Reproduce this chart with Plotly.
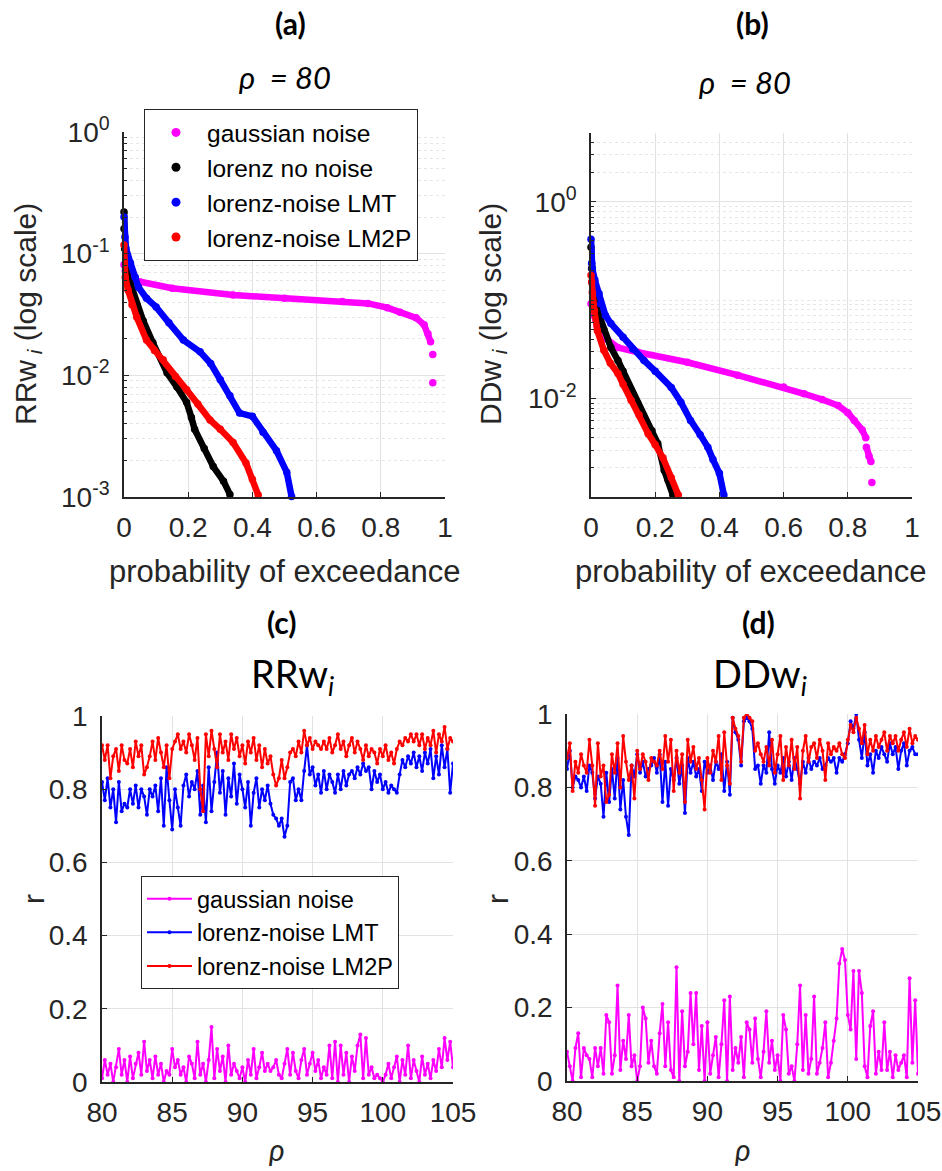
import plotly.graph_objects as go

W, H = 942, 1171

# ---------------- DATA ----------------
# Panel (a): probability of exceedance vs RRw_i (rho = 80)
a_gauss_p = [0.0, 0.004, 0.01, 0.02, 0.05, 0.15, 0.34, 0.50, 0.68, 0.76, 0.82, 0.86, 0.91, 0.935, 0.947, 0.955, None, 0.962, None, 0.962]
a_gauss_v = [0.081, 0.072, 0.065, 0.061, 0.0586, 0.052, 0.0457, 0.043, 0.0405, 0.039, 0.036, 0.033, 0.0297, 0.026, 0.022, 0.0189, None, 0.0148, None, 0.0087]
a_black_p = [0.0, 0.0, 0.002, 0.005, 0.01, 0.019, 0.04, 0.06, 0.09, 0.134, 0.165, 0.195, 0.21, 0.22, 0.25, 0.278, 0.31, 0.33]
a_black_v = [0.22, 0.16, 0.11, 0.085, 0.068, 0.057, 0.038, 0.028, 0.0185, 0.0105, 0.0080, 0.0060, 0.0045, 0.0036, 0.0025, 0.00178, 0.00135, 0.00105]
a_lmt_p = [0.0, 0.003, 0.006, 0.02, 0.035, 0.045, 0.07, 0.10, 0.14, 0.185, 0.237, 0.27, 0.30, 0.33, 0.36, 0.40, 0.433, 0.475, 0.507, 0.522]
a_lmt_v = [0.20, 0.137, 0.111, 0.084, 0.064, 0.053, 0.043, 0.0365, 0.027, 0.0195, 0.0156, 0.0125, 0.0092, 0.0068, 0.0049, 0.0046, 0.0034, 0.0024, 0.0016, 0.00101]
a_lm2p_p = [0.0, 0.004, 0.013, 0.025, 0.04, 0.07, 0.095, 0.122, 0.16, 0.195, 0.23, 0.268, 0.30, 0.34, 0.38, 0.40, 0.418]
a_lm2p_v = [0.118, 0.064, 0.050, 0.038, 0.030, 0.0195, 0.016, 0.0134, 0.0098, 0.0076, 0.0058, 0.0043, 0.0036, 0.0028, 0.0019, 0.0014, 0.00104]

# Panel (b): probability of exceedance vs DDw_i (rho = 80)
b_gauss_p = [0.0, 0.01, 0.02, 0.05, 0.084, 0.146, 0.30, 0.457, 0.60, 0.664, 0.72, 0.77, 0.80, 0.82, 0.845, 0.856, None, 0.858, 0.866, 0.872, None, 0.875]
b_gauss_v = [0.092, 0.07, 0.053, 0.04, 0.033, 0.0296, 0.0234, 0.0173, 0.0131, 0.0112, 0.0098, 0.0085, 0.0072, 0.0060, 0.0048, 0.0040, None, 0.0032, 0.0026, 0.0023, None, 0.0014]
b_black_p = [0.0, 0.002, 0.004, 0.01, 0.02, 0.04, 0.062, 0.084, 0.10, 0.125, 0.145, 0.165, 0.19, 0.208, 0.228, 0.24, 0.255]
b_black_v = [0.345, 0.21, 0.148, 0.10, 0.079, 0.05, 0.033, 0.0244, 0.019, 0.0121, 0.009, 0.0064, 0.0047, 0.0035, 0.00187, 0.0015, 0.00105]
b_lmt_p = [0.0, 0.002, 0.004, 0.012, 0.025, 0.03, 0.045, 0.062, 0.10, 0.13, 0.165, 0.20, 0.25, 0.28, 0.31, 0.34, 0.364, 0.38, 0.40, 0.414]
b_lmt_v = [0.417, 0.237, 0.21, 0.16, 0.117, 0.092, 0.07, 0.058, 0.042, 0.032, 0.0244, 0.019, 0.013, 0.0092, 0.0060, 0.0043, 0.0032, 0.0024, 0.00174, 0.00105]
b_lm2p_p = [0.0, 0.002, 0.004, 0.006, 0.01, 0.02, 0.04, 0.06, 0.084, 0.10, 0.125, 0.15, 0.178, 0.20, 0.224, 0.25, 0.272]
b_lm2p_v = [0.179, 0.153, 0.12, 0.092, 0.079, 0.049, 0.031, 0.023, 0.018, 0.014, 0.0096, 0.0068, 0.0044, 0.0034, 0.0025, 0.00157, 0.00105]

# Panels (c), (d): correlation r vs rho
rho = [round(80 + 0.2 * i, 1) for i in range(126)]

c_gauss = [0.01, 0.06, 0.02, 0.05, 0.00, 0.04, 0.09, 0.02, 0.06, 0.00,
           0.07, 0.01, 0.05, 0.08, 0.02, 0.11, 0.03, 0.06, 0.01, 0.07,
           0.02, 0.05, 0.00, 0.03, 0.02, 0.09, 0.04, 0.06, 0.02, 0.04,
           0.00, 0.07, 0.05, 0.01, 0.11, 0.02, 0.05, 0.00, 0.06, 0.15,
           0.01, 0.09, 0.03, 0.07, 0.00, 0.10, 0.02, 0.05, 0.03, 0.01,
           0.04, 0.00, 0.06, 0.02, 0.09, 0.01, 0.04, 0.08, 0.03, 0.05,
           0.03, 0.04, 0.06, 0.02, 0.01, 0.05, 0.09, 0.02, 0.08, 0.03,
           0.01, 0.06, 0.09, 0.02, 0.05, 0.08, 0.03, 0.06, 0.01, 0.04,
           0.02, 0.10, 0.01, 0.11, 0.00, 0.10, 0.02, 0.08, 0.00, 0.07,
           0.03, 0.10, 0.13, 0.01, 0.12, 0.02, 0.04, 0.01, 0.02, 0.01,
           0.00, 0.02, 0.05, 0.01, 0.04, 0.07, 0.00, 0.06, 0.02, 0.10,
           0.01, 0.06, 0.03, 0.00, 0.07, 0.02, 0.05, 0.01, 0.06, 0.03,
           0.09, 0.04, 0.12, 0.06, 0.11, 0.04]
c_lmt = [0.82, 0.77, 0.83, 0.75, 0.80, 0.71, 0.82, 0.74, 0.76, 0.75,
         0.80, 0.76, 0.81, 0.75, 0.80, 0.78, 0.73, 0.80, 0.78, 0.81,
         0.74, 0.83, 0.70, 0.86, 0.77, 0.69, 0.80, 0.75, 0.70, 0.81,
         0.84, 0.78, 0.82, 0.80, 0.85, 0.73, 0.81, 0.71, 0.86, 0.74,
         0.82, 0.90, 0.79, 0.85, 0.73, 0.83, 0.78, 0.87, 0.76, 0.84,
         0.80, 0.75, 0.82, 0.70, 0.79, 0.83, 0.75, 0.80, 0.77, 0.81,
         0.76, 0.73, 0.72, 0.70, 0.72, 0.67, 0.70, 0.82, 0.83, 0.77,
         0.80, 0.77, 0.85, 0.92, 0.84, 0.86, 0.81, 0.84, 0.79, 0.85,
         0.80, 0.84, 0.82, 0.79, 0.84, 0.80, 0.85, 0.81, 0.84, 0.85,
         0.83, 0.86, 0.84, 0.87, 0.85, 0.86, 0.80, 0.85, 0.82, 0.84,
         0.80, 0.82, 0.79, 0.81, 0.80, 0.79, 0.84, 0.88, 0.86, 0.89,
         0.87, 0.90, 0.86, 0.89, 0.85, 0.90, 0.87, 0.91, 0.83, 0.89,
         0.84, 0.92, 0.86, 0.91, 0.79, 0.87]
c_lm2p = [0.92, 0.88, 0.92, 0.83, 0.89, 0.91, 0.85, 0.92, 0.88, 0.87,
          0.91, 0.86, 0.93, 0.89, 0.92, 0.84, 0.86, 0.89, 0.93, 0.88,
          0.94, 0.90, 0.86, 0.92, 0.83, 0.91, 0.93, 0.95, 0.91, 0.93,
          0.90, 0.95, 0.92, 0.88, 0.94, 0.80, 0.74, 0.95, 0.89, 0.96,
          0.91, 0.86, 0.95, 0.90, 0.93, 0.88, 0.95, 0.91, 0.94, 0.89,
          0.92, 0.87, 0.93, 0.90, 0.94, 0.88, 0.92, 0.86, 0.91, 0.87,
          0.89, 0.84, 0.81, 0.83, 0.88, 0.83, 0.86, 0.90, 0.91, 0.89,
          0.93, 0.90, 0.96, 0.92, 0.94, 0.91, 0.93, 0.92, 0.91, 0.93,
          0.91, 0.94, 0.90, 0.92, 0.95, 0.91, 0.93, 0.89, 0.92, 0.94,
          0.90, 0.93, 0.91, 0.88, 0.92, 0.89, 0.91, 0.90, 0.87, 0.91,
          0.89, 0.92, 0.88, 0.90, 0.87, 0.91, 0.93, 0.92, 0.94, 0.93,
          0.95, 0.93, 0.95, 0.92, 0.95, 0.91, 0.94, 0.92, 0.96, 0.90,
          0.95, 0.93, 0.97, 0.91, 0.94, 0.93]

d_gauss = [0.08, 0.04, 0.00, 0.09, 0.13, 0.01, 0.09, 0.07, 0.06, 0.01,
           0.09, 0.04, 0.09, 0.02, 0.18, 0.16, 0.02, 0.07, 0.26, 0.03,
           0.11, 0.06, 0.18, 0.04, 0.07, 0.00, 0.04, 0.20, 0.17, 0.05,
           0.11, 0.04, 0.02, 0.13, 0.21, 0.04, 0.16, 0.03, 0.01, 0.31,
           0.00, 0.19, 0.04, 0.08, 0.24, 0.10, 0.24, 0.03, 0.15, 0.00,
           0.16, 0.02, 0.07, 0.12, 0.01, 0.10, 0.22, 0.00, 0.23, 0.03,
           0.09, 0.05, 0.12, 0.01, 0.16, 0.14, 0.05, 0.17, 0.06, 0.01,
           0.08, 0.19, 0.05, 0.11, 0.03, 0.07, 0.00, 0.18, 0.14, 0.02,
           0.04, 0.00, 0.10, 0.26, 0.03, 0.18, 0.02, 0.06, 0.23, 0.02,
           0.05, 0.09, 0.16, 0.01, 0.05, 0.11, 0.17, 0.32, 0.36, 0.33,
           0.18, 0.14, 0.30, 0.06, 0.30, 0.24, 0.04, 0.01, 0.15, 0.19,
           0.02, 0.08, 0.03, 0.16, 0.03, 0.08, 0.01, 0.07, 0.03, 0.05,
           0.07, 0.01, 0.28, 0.05, 0.22, 0.02]
d_lmt = [0.85, 0.90, 0.80, 0.83, 0.82, 0.80, 0.83, 0.79, 0.86, 0.84,
         0.77, 0.83, 0.81, 0.72, 0.84, 0.76, 0.85, 0.77, 0.88, 0.74,
         0.82, 0.72, 0.67, 0.86, 0.83, 0.89, 0.84, 0.87, 0.83, 0.85,
         0.86, 0.88, 0.84, 0.89, 0.76, 0.87, 0.75, 0.85, 0.82, 0.88,
         0.81, 0.86, 0.73, 0.88, 0.84, 0.87, 0.83, 0.85, 0.79, 0.87,
         0.84, 0.86, 0.82, 0.87, 0.85, 0.89, 0.79, 0.87, 0.78, 0.99,
         0.95, 0.93, 0.86, 0.98, 0.99, 0.98, 0.96, 0.85, 0.86, 0.81,
         0.86, 0.84, 0.95, 0.85, 0.81, 0.86, 0.84, 0.88, 0.83, 0.87,
         0.82, 0.88, 0.85, 0.81, 0.87, 0.84, 0.88, 0.85, 0.87, 0.86,
         0.88, 0.85, 0.86, 0.88, 0.87, 0.88, 0.84, 0.88, 0.87, 0.89,
         0.92, 0.98, 0.96, 1.00, 0.93, 0.88, 0.95, 0.86, 0.89, 0.84,
         0.90, 0.88, 0.91, 0.89, 0.87, 0.92, 0.89, 0.91, 0.85, 0.90,
         0.92, 0.86, 0.90, 0.91, 0.89, 0.89]
d_lm2p = [0.88, 0.92, 0.79, 0.87, 0.84, 0.89, 0.86, 0.84, 0.93, 0.86,
          0.75, 0.92, 0.83, 0.86, 0.76, 0.78, 0.89, 0.84, 0.92, 0.80,
          0.94, 0.87, 0.82, 0.86, 0.77, 0.90, 0.85, 0.89, 0.87, 0.82,
          0.88, 0.87, 0.86, 0.90, 0.85, 0.94, 0.87, 0.93, 0.79, 0.90,
          0.84, 0.89, 0.76, 0.93, 0.87, 0.91, 0.85, 0.88, 0.82, 0.74,
          0.88, 0.84, 0.90, 0.87, 0.94, 0.82, 0.95, 0.86, 0.81, 0.99,
          0.96, 0.94, 0.87, 0.99, 1.00, 0.99, 0.98, 0.90, 0.92, 0.89,
          0.87, 0.91, 0.86, 0.93, 0.84, 0.89, 0.94, 0.82, 0.91, 0.86,
          0.93, 0.85, 0.91, 0.77, 0.90, 0.94, 0.87, 0.91, 0.92, 0.88,
          0.93, 0.90, 0.82, 0.92, 0.89, 0.91, 0.90, 0.92, 0.89, 0.88,
          0.93, 0.97, 0.95, 0.99, 0.96, 0.92, 0.97, 0.89, 0.93, 0.90,
          0.94, 0.91, 0.93, 0.95, 0.90, 0.94, 0.92, 0.94, 0.90, 0.93,
          0.95, 0.91, 0.96, 0.92, 0.94, 0.93]

names_top = ["gaussian noise", "lorenz no noise", "lorenz-noise LMT", "lorenz-noise LM2P"]
names_bot = ["gaussian noise", "lorenz-noise LMT", "lorenz-noise LM2P"]
prob_ticks = [0, 0.2, 0.4, 0.6, 0.8, 1]
prob_ticktext = ["0", "0.2", "0.4", "0.6", "0.8", "1"]
r_ticks = [0, 0.2, 0.4, 0.6, 0.8, 1]
r_ticktext = ["0", "0.2", "0.4", "0.6", "0.8", "1"]
rho_ticks = [80, 85, 90, 95, 100, 105]
rho_ticktext = ["80", "85", "90", "95", "100", "105"]

# ---------------- STYLE ----------------
MAG, BLK, BLU, RED = "#FF00FF", "#000000", "#0000FF", "#FF0000"
TXT = "#262626"
GRID = "#e2e2e2"
MGRID = "#e6e6e6"
FONT = "Liberation Sans, Arial, sans-serif"
TFONT = "Lato, Open Sans, sans-serif"

fig = go.Figure()

def px(x): return x / W
def py(y): return 1 - y / H

def top_trace(xv, yv, color, xa, ya):
    fig.add_trace(go.Scatter(x=xv, y=yv, mode="lines+markers", xaxis=xa, yaxis=ya,
                             line=dict(color=color, width=6.5), marker=dict(color=color, size=7.5),
                             connectgaps=False, showlegend=False, cliponaxis=False, hoverinfo="skip"))

top_trace(a_gauss_p, a_gauss_v, MAG, "x", "y")
top_trace(a_black_p, a_black_v, BLK, "x", "y")
top_trace(a_lmt_p, a_lmt_v, BLU, "x", "y")
top_trace(a_lm2p_p, a_lm2p_v, RED, "x", "y")
top_trace(b_gauss_p, b_gauss_v, MAG, "x2", "y2")
top_trace(b_black_p, b_black_v, BLK, "x2", "y2")
top_trace(b_lmt_p, b_lmt_v, BLU, "x2", "y2")
top_trace(b_lm2p_p, b_lm2p_v, RED, "x2", "y2")

for nm, col in zip(names_top, [MAG, BLK, BLU, RED]):
    fig.add_trace(go.Scatter(x=[None], y=[None], mode="markers", name=nm, xaxis="x", yaxis="y",
                             marker=dict(color=col, size=9), legend="legend", showlegend=True))

def bot_trace(yv, color, xa, ya, name, show):
    fig.add_trace(go.Scatter(x=rho, y=yv, mode="lines+markers", xaxis=xa, yaxis=ya, name=name,
                             line=dict(color=color, width=2), marker=dict(color=color, size=4),
                             showlegend=show, legend="legend2", hoverinfo="skip"))

bot_trace(c_gauss, MAG, "x3", "y3", names_bot[0], True)
bot_trace(c_lmt, BLU, "x3", "y3", names_bot[1], True)
bot_trace(c_lm2p, RED, "x3", "y3", names_bot[2], True)
bot_trace(d_gauss, MAG, "x4", "y4", names_bot[0], False)
bot_trace(d_lmt, BLU, "x4", "y4", names_bot[1], False)
bot_trace(d_lm2p, RED, "x4", "y4", names_bot[2], False)

common = dict(showline=True, linecolor=TXT, linewidth=1.5, ticks="inside", ticklen=5, tickcolor=TXT,
              tickwidth=1, showgrid=True, gridcolor=GRID, gridwidth=1, zeroline=False,
              tickfont=dict(family=FONT, size=28, color=TXT), mirror=False, automargin=False)
xcommon = dict(common, ticklabelstandoff=5)
ycommon = dict(common, ticklabelstandoff=7)

def minor_vals(lo, hi):
    vals = []
    for e in range(lo, hi + 1):
        for k in range(2, 10):
            vals.append(k * 10.0 ** e)
    return vals

a_minor = minor_vals(-3, -1)
b_minor = [v for v in minor_vals(-3, 0) if v <= 5.0] + [0.1]

fig.update_layout(
    width=W, height=H, margin=dict(l=0, r=0, t=0, b=0),
    paper_bgcolor="white", plot_bgcolor="white",
    xaxis=dict(domain=[px(124), px(445)], range=[0, 1], tickvals=prob_ticks, ticktext=prob_ticktext,
               anchor="y", **xcommon),
    yaxis=dict(domain=[py(497), py(132)], type="log", range=[-3, 0],
               tickvals=[1e-3, 1e-2, 1e-1, 1], ticktext=["10<sup>-3</sup>", "10<sup>-2</sup>", "10<sup>-1</sup>", "10<sup>0</sup>"],
               minor=dict(tickvals=a_minor, ticks="inside", ticklen=3, tickcolor=TXT, showgrid=True,
                          gridcolor=MGRID, griddash="dot"),
               anchor="x", **ycommon),
    xaxis2=dict(domain=[px(591), px(912)], range=[0, 1], tickvals=prob_ticks, ticktext=prob_ticktext,
                anchor="y2", **xcommon),
    yaxis2=dict(domain=[py(497), py(133)], type="log", range=[-3, 0.69897],
                tickvals=[1e-2, 1], ticktext=["10<sup>-2</sup>", "10<sup>0</sup>"],
                minor=dict(tickvals=b_minor, ticks="inside", ticklen=3, tickcolor=TXT, showgrid=True,
                           gridcolor=MGRID, griddash="dot"),
                anchor="x2", **ycommon),
    xaxis3=dict(domain=[px(102), px(453)], range=[80, 105], tickvals=rho_ticks, ticktext=rho_ticktext,
                anchor="y3", **xcommon),
    yaxis3=dict(domain=[py(1082), py(716)], range=[0, 1], tickvals=r_ticks, ticktext=r_ticktext,
                anchor="x3", **ycommon),
    xaxis4=dict(domain=[px(567), px(918)], range=[80, 105], tickvals=rho_ticks, ticktext=rho_ticktext,
                anchor="y4", **xcommon),
    yaxis4=dict(domain=[py(1081), py(714)], range=[0, 1], tickvals=r_ticks, ticktext=r_ticktext,
                anchor="x4", **ycommon),
    legend=dict(x=px(144), y=py(109), xanchor="left", yanchor="top", bgcolor="white",
                bordercolor=TXT, borderwidth=1, font=dict(family=FONT, size=24.5, color="black"),
                itemwidth=52, tracegroupgap=0),
    legend2=dict(x=px(141), y=py(876), xanchor="left", yanchor="top", bgcolor="white",
                 bordercolor=TXT, borderwidth=1, font=dict(family=FONT, size=23.5, color="black"),
                 itemwidth=45, tracegroupgap=0),
)

ann = []
def add_text(x, y, text, size, family=TFONT, color="black", angle=0):
    ann.append(dict(x=px(x), y=py(y), xref="paper", yref="paper", text=text, showarrow=False,
                    font=dict(family=family, size=size, color=color), textangle=angle,
                    xanchor="center", yanchor="middle"))

add_text(290, 23, "<b>(a)</b>", 30)
add_text(285, 77, "<i>ρ  = 80</i>", 31)
add_text(752, 23, "<b>(b)</b>", 30)
add_text(745, 82, "<i>ρ  = 80</i>", 31)
add_text(282, 622, "<b>(c)</b>", 30)
add_text(292, 676, "RRw<sub><i>i</i></sub>", 38)
add_text(758, 622, "<b>(d)</b>", 30)
add_text(760, 676, "DDw<sub><i>i</i></sub>", 38)

add_text(285, 572, "probability of exceedance", 31, family=FONT, color=TXT)
add_text(751, 572, "probability of exceedance", 31, family=FONT, color=TXT)
add_text(27, 314, "RRw<sub> <i>i</i></sub> (log scale)", 30, family=FONT, color=TXT, angle=-90)
add_text(492, 314, "DDw<sub> <i>i</i></sub> (log scale)", 30, family=FONT, color=TXT, angle=-90)
add_text(33, 899, "r", 30, family=FONT, color=TXT, angle=-90)
add_text(497, 899, "r", 30, family=FONT, color=TXT, angle=-90)
add_text(277, 1149, "<i>ρ</i>", 30, family=TFONT, color=TXT)
add_text(743, 1149, "<i>ρ</i>", 30, family=TFONT, color=TXT)

fig.update_layout(annotations=ann)
fig.write_html("out.html")
